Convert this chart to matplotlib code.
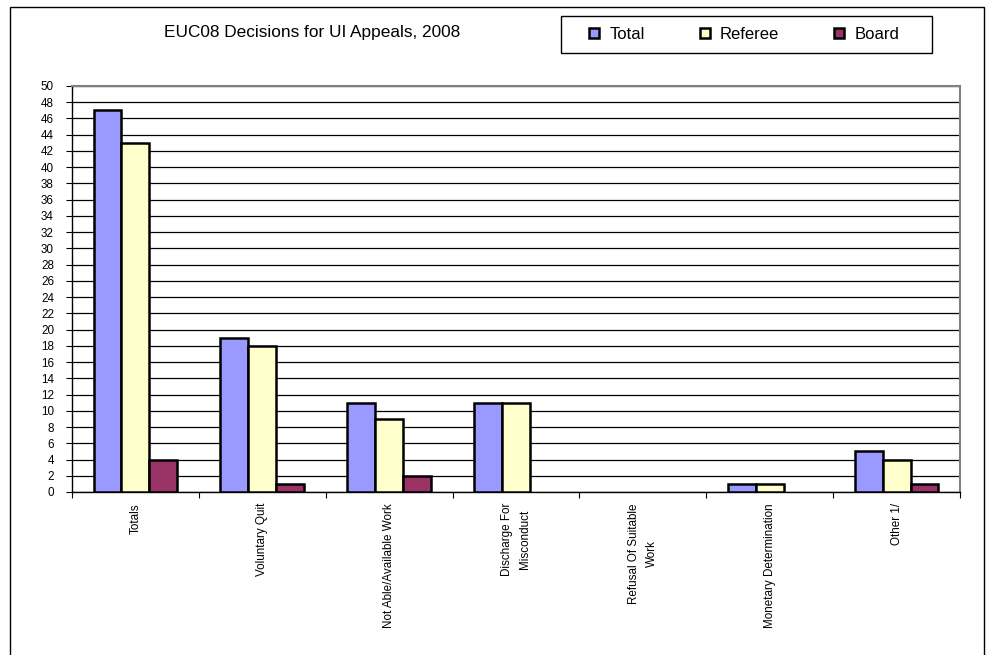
import numpy as np
import matplotlib
matplotlib.use("Agg")
import matplotlib.pyplot as plt
from matplotlib.patches import Rectangle

# Data
categories = ["Totals", "Voluntary Quit", "Not Able/Available Work",
              "Discharge For\nMisconduct", "Refusal Of Suitable\nWork",
              "Monetary Determination", "Other 1/"]
total = [47, 19, 11, 11, 0, 1, 5]
referee = [43, 18, 9, 11, 0, 1, 4]
board = [4, 1, 2, 0, 0, 0, 1]

series = [("Total", total, "#9999FF"),
          ("Referee", referee, "#FFFFCC"),
          ("Board", board, "#993366")]

plt.rcParams["font.family"] = ["Liberation Sans", "DejaVu Sans"]

W, H = 987, 655
fig = plt.figure(figsize=(W / 100, H / 100), dpi=100)
ax = fig.add_axes([72 / W, 1 - 492 / H, 888 / W, 406 / H])

x = np.arange(len(categories))
w = 0.22
for i, (name, vals, col) in enumerate(series):
    vals = np.array(vals)
    keep = vals > 0  # zero values draw nothing in the original
    ax.bar(x[keep] + (i - 1) * w, vals[keep], w, color=col, edgecolor="black",
           linewidth=1.8, label=name, zorder=3)

ax.set_xlim(-0.5, len(categories) - 0.5)
ax.set_ylim(0, 50)
ax.set_yticks(range(0, 51, 2))
ax.tick_params(axis="y", labelsize=8.4, direction="out", length=4, pad=9)
ax.yaxis.grid(True, color="black", linewidth=0.9, zorder=0)

ax.set_xticks(np.arange(-0.5, len(categories), 1.0))
ax.set_xticklabels([])
ax.set_xticks(x, minor=True)
ax.set_xticklabels(categories, minor=True, rotation=90, fontsize=8.4,
                   va="top", ha="center", multialignment="center",
                   linespacing=1.6)
ax.tick_params(axis="x", which="minor", length=0, pad=8)
ax.tick_params(axis="x", which="major", direction="out", length=4)

for s in ["top", "right"]:
    ax.spines[s].set_color("#808080")
    ax.spines[s].set_linewidth(1.5)
for s in ["left", "bottom"]:
    ax.spines[s].set_color("black")
    ax.spines[s].set_linewidth(1.0)

fig.text(312 / W, 1 - 33 / H, "EUC08 Decisions for UI Appeals, 2008",
         ha="center", va="center", fontsize=12.4)

# legend box and entries
fig.patches.append(Rectangle((561 / W, 1 - 53 / H), 371 / W, 37 / H,
                             transform=fig.transFigure, fill=False,
                             edgecolor="black", linewidth=1.0))
leg = fig.legend(loc="center left", bbox_to_anchor=(589 / W, 1 - 34.5 / H),
                 ncol=3, frameon=False, borderpad=0, borderaxespad=0,
                 handlelength=0.6, handleheight=0.6, handletextpad=0.62,
                 columnspacing=3.3, prop={"size": 12})

# outer chart border
fig.patches.append(Rectangle((9.5 / W, -0.01), 975 / W, 1 - 7 / H + 0.01,
                             transform=fig.transFigure, fill=False,
                             edgecolor="black", linewidth=1.0))

fig.savefig("out.png", dpi=100)
